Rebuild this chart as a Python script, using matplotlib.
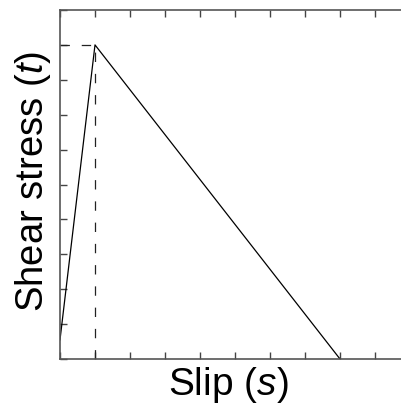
import numpy as np
import matplotlib
matplotlib.use("Agg")
import matplotlib.pyplot as plt

# bilinear traction-slip law
slip = [0.0, 1.0, 8.0]
stress = [0.55, 9.0, 0.0]
peak_slip = 1.0
peak_stress = 9.0

plt.rcParams['font.family'] = ['Liberation Sans', 'DejaVu Sans']
plt.rcParams['mathtext.fontset'] = 'custom'
plt.rcParams['mathtext.it'] = 'Liberation Sans:italic'
plt.rcParams['mathtext.rm'] = 'Liberation Sans'

fig = plt.figure(figsize=(4.02, 4.05), dpi=100)
ax = fig.add_axes([60 / 402, 46 / 405, 350 / 402, 349 / 405])

ax.plot(slip, stress, color='black', lw=0.9)
ax.plot([0, peak_slip], [peak_stress, peak_stress], color='#222222', lw=0.9,
        dashes=(7.5, 9.5))
ax.plot([peak_slip, peak_slip], [0, peak_stress], color='#222222', lw=0.9,
        dashes=(7.5, 9.5))

ax.set_xlim(0, 10)
ax.set_ylim(0, 10)
ax.set_xticks(np.arange(0, 11, 1))
ax.set_yticks(np.arange(0, 11, 1))
ax.tick_params(direction='in', length=5, width=1, color='#444444',
               top=True, right=True, labelbottom=False, labelleft=False)
for sp in ax.spines.values():
    sp.set_color('#555555')
    sp.set_linewidth(1.2)

ax.set_xlabel("Slip ($s$)", fontsize=28)
ax.set_ylabel("Shear stress ($t$)", fontsize=27.5)
ax.xaxis.set_label_coords(0.48, -0.016, transform=ax.transAxes)
ax.xaxis.label.set_va('top')
ax.yaxis.set_label_coords(-0.021, 0.51, transform=ax.transAxes)
ax.yaxis.label.set_va('bottom')

fig.savefig("out.png", dpi=100)
